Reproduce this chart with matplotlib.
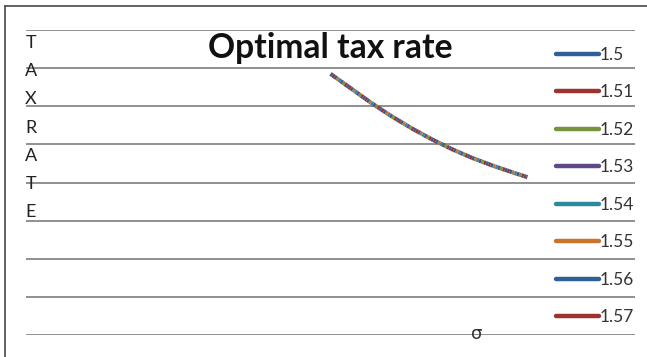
import numpy as np
import matplotlib.pyplot as plt
from matplotlib.lines import Line2D

plt.rcParams['font.family'] = ['Lato', 'DejaVu Sans']
plt.rcParams['lines.scale_dashes'] = False

# sigma on the x axis, optimal rate on the y axis
sigma = [1.50, 1.60, 1.70, 1.80, 1.90, 2.00, 2.10, 2.20, 2.30, 2.40, 2.47]
tax_rate = [0.685, 0.647, 0.609, 0.574, 0.542, 0.513, 0.487, 0.464, 0.444, 0.426, 0.414]

series_labels = ['1.5', '1.51', '1.52', '1.53', '1.54', '1.55', '1.56', '1.57']
series_colors = ['#2f5f98', '#9b3330', '#77933c', '#5f4a84', '#2f899e',
                 '#c8742e', '#2f5f98', '#9b3330']

W, H = 647, 357
fig = plt.figure(figsize=(W / 100, H / 100), dpi=100)
ax = fig.add_axes([26 / W, 22 / H, 609 / W, 305 / H])
ax.set_xlim(0, 3)
ax.set_ylim(0, 0.8)

for y in np.arange(0, 0.81, 0.1):
    ax.axhline(y, color='#8f8f8f', lw=1.4, zorder=0)

# the series lie on top of each other, so give each a staggered dash
n = len(series_labels)
seg = 1.8
for i, (lab, col) in enumerate(zip(series_labels, series_colors)):
    ax.plot(sigma, tax_rate, color=col, lw=3.0,
            linestyle=(i * seg, (seg, seg * (n - 1))), solid_capstyle='butt')

for s in ax.spines.values():
    s.set_visible(False)
ax.set_xticks([])
ax.set_yticks([])

ax.text(0.5, (335 - 48) / 305, 'Optimal tax rate', ha='center', va='center',
        fontsize=24.2, fontweight='bold', color='#111111',
        transform=ax.transAxes)

for k, ch in enumerate('TAXRATE'):
    ax.text((31 - 26) / 609, (335 - 43 - 28.2 * k) / 305, ch, ha='center',
            va='center', fontsize=13, color='#222222',
            transform=ax.transAxes)

ax.text((477 - 26) / 609, 0.002, 'σ', ha='center', va='center',
        fontsize=13, color='#333333', family='DejaVu Sans',
        transform=ax.transAxes)

handles = [Line2D([], [], color=c, lw=3.2, solid_capstyle='round')
           for c in series_colors]
leg = fig.legend(handles, series_labels, loc='upper left',
                 bbox_to_anchor=(556 / W, (H - 47) / H),
                 frameon=False, fontsize=12.5, handlelength=2.45,
                 handletextpad=0.08, labelspacing=1.235, borderpad=0,
                 borderaxespad=0)
for t in leg.get_texts():
    t.set_color('#333333')

# outer frame, cut off on the right and bottom
fig.add_artist(Line2D([5 / W, 5 / W], [0, 1 - 6 / H], color='#555555',
                      lw=1.3, transform=fig.transFigure))
fig.add_artist(Line2D([5 / W, 1], [1 - 6 / H, 1 - 6 / H], color='#555555',
                      lw=1.3, transform=fig.transFigure))

fig.savefig('out.png', dpi=100)
